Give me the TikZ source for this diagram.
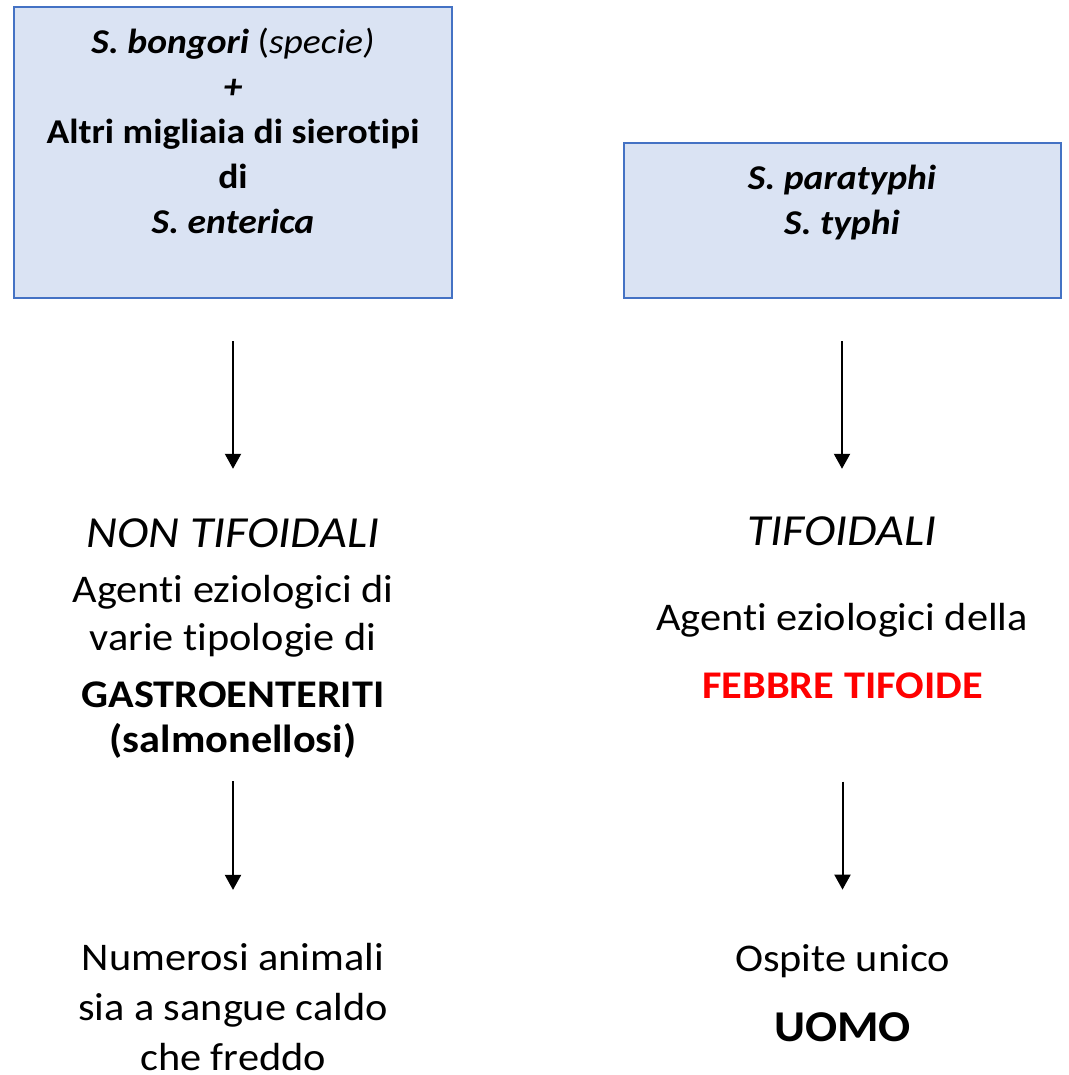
\documentclass[tikz,border=0pt]{standalone}
\usepackage{fontspec}
\setmainfont[FakeStretch=1.08, Ligatures=NoCommon]{Carlito}
\usepackage{xcolor}
\usetikzlibrary{arrows.meta, positioning}
\definecolor{boxblue}{RGB}{218, 227, 243}
\definecolor{edgeblue}{RGB}{68, 114, 196}
\definecolor{feverred}{RGB}{255, 0, 0}

\begin{document}
\begin{tikzpicture}[x=0.5pt, y=-0.5pt,
  specbox/.style={draw=edgeblue, fill=boxblue, line width=1pt, inner sep=0pt},
  boxtext/.style={align=center, inner sep=0pt, font=\fontsize{17.4}{22.5}\selectfont\bfseries},
  headtext/.style={inner sep=0pt, font=\fontsize{22.2}{26}\selectfont\itshape},
  bodytext/.style={align=center, inner sep=0pt, font=\fontsize{19.6}{24}\selectfont},
  flow/.style={-{Triangle[length=7.5pt, width=8pt]}, line width=1pt}]
\useasboundingbox (0,0) rectangle (1069,1075);
% boxes with the serotypes
\node[specbox, minimum width=219pt, minimum height=145.5pt] (nontyph) at (233,152.5) {};
\node[specbox, minimum width=218.5pt, minimum height=77.5pt] (typh) at (842,220.5) {};
\node[boxtext, anchor=north] (nontyphtxt) at (233,28) {\textit{S. bongori} {\mdseries(\textit{specie)}}\\\textit{+}\\Altri migliaia di sierotipi\\di\\\textit{S. enterica}};
\node[boxtext, anchor=north] (typhtxt) at (842,165) {\textit{S. paratyphi}\\\textit{S. typhi}};
% left column
\node[headtext, anchor=base] (gastrohead) at (233,547) {NON TIFOIDALI};
\node[bodytext, anchor=north] (gastro) at (233,574.5) {Agenti eziologici di\\varie tipologie di\\[4.5pt]\textbf{GASTROENTERITI}\\[-1.5pt]\textbf{(salmonellosi)}};
\node[bodytext, anchor=north, font=\fontsize{19.6}{25}\selectfont] (animals) at (233,942.5) {Numerosi animali\\sia a sangue caldo\\che freddo};
% right column
\node[headtext, anchor=base] (feverhead) at (842,545) {TIFOIDALI};
\node[bodytext, anchor=base] (agents) at (842,630) {Agenti eziologici della};
\node[bodytext, anchor=base, text=feverred, font=\fontsize{19.6}{24}\selectfont\bfseries] (fever) at (842.5,698) {FEBBRE TIFOIDE};
\node[bodytext, anchor=base] (host) at (842.5,971) {Ospite unico};
\node[bodytext, anchor=base, font=\fontsize{22}{26}\selectfont\bfseries] (human) at (842.5,1041) {UOMO};
\draw[flow, shorten <=21pt, shorten >=24.5pt] (nontyph.south) -- (gastrohead.north);
\draw[flow, shorten <=21pt, shorten >=23.5pt] (typh.south) -- (feverhead.north);
\draw[flow, shorten <=11.5pt, shorten >=26.3pt] (gastro.south) -- (animals.north);
\draw[flow, shorten <=41.5pt, shorten >=27pt] (fever.south) -- (host.north);
\end{tikzpicture}
\end{document}
